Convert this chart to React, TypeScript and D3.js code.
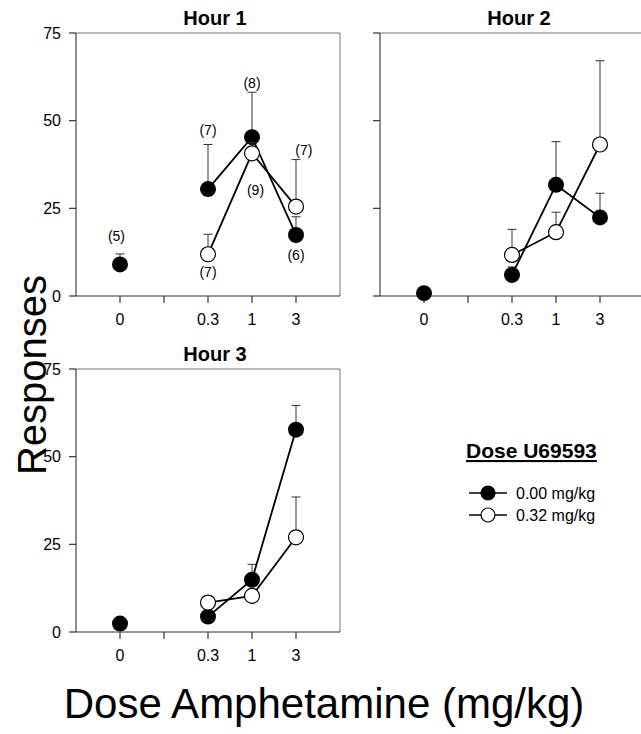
import React from "react";
import * as d3 from "d3";

// dose categories (index 1 is the axis break tick, no label)
const doseLabels = ["0", "", "0.3", "1", "3"];
const yTicks = [0, 25, 50, 75];

// U69593 0.00 mg/kg (filled) – doses 0, 0.3, 1, 3
const filledPos = [0, 2, 3, 4];
const h1Filled = [9, 30.5, 45.3, 17.4];
const h1FilledSem = [3, 12.7, 12.8, 5.2];
const h2Filled = [0.8, 6.0, 31.7, 22.4];
const h2FilledSem = [0, 2.3, 12.3, 6.9];
const h3Filled = [2.4, 4.4, 14.9, 57.7];
const h3FilledSem = [0, 0, 4.4, 6.9];

// U69593 0.32 mg/kg (open) – doses 0.3, 1, 3
const openPos = [2, 3, 4];
const h1Open = [11.9, 40.7, 25.5];
const h1OpenSem = [5.7, 3, 13.4];
const h2Open = [11.7, 18.2, 43.2];
const h2OpenSem = [7.3, 5.7, 23.9];
const h3Open = [8.4, 10.3, 27.0];
const h3OpenSem = [0, 0, 11.5];

// group sizes written on hour 1: [label, dose position, y value]
const h1Counts: [string, number, number][] = [
  ["(5)", -0.08, 15.6],
  ["(7)", 2, 46.0],
  ["(8)", 3, 59.3],
  ["(7)", 4.18, 40.1],
  ["(9)", 3.08, 28.9],
  ["(6)", 4, 10.2],
  ["(7)", 2, 5.5],
];

const W = 264;
const H = 263;
const R = 7.5;
const font = "Arial, 'Liberation Sans', Helvetica, sans-serif";

type PanelProps = {
  title: string;
  left: number;
  top: number;
  showYLabels: boolean;
  filled: number[];
  filledSem: number[];
  open: number[];
  openSem: number[];
  counts?: [string, number, number][];
};

function Panel(p: PanelProps) {
  const x = d3.scaleLinear().domain([-1, 5]).range([0, W]);
  const y = d3.scaleLinear().domain([0, 75]).range([H, 0]);

  const line = d3
    .line<[number, number]>()
    .x((d) => x(d[0]))
    .y((d) => y(d[1]));

  // only the amphetamine doses are connected, not the 0 point
  const filledLine = filledPos
    .map((pos, i) => [pos, p.filled[i]] as [number, number])
    .filter((d) => d[0] > 0);
  const openLine = openPos.map((pos, i) => [pos, p.open[i]] as [number, number]);

  const errBar = (pos: number, v: number, sem: number, k: string) =>
    sem > 0 ? (
      <g key={k} stroke="#333" strokeWidth={1}>
        <line x1={x(pos)} x2={x(pos)} y1={y(v)} y2={y(v + sem)} />
        <line x1={x(pos) - 4.5} x2={x(pos) + 4.5} y1={y(v + sem)} y2={y(v + sem)} />
      </g>
    ) : null;

  return (
    <g transform={`translate(${p.left},${p.top})`}>
      <text
        x={W / 2 + 7}
        y={-8}
        textAnchor="middle"
        fontFamily={font}
        fontWeight="bold"
        fontSize={20}
      >
        {p.title}
      </text>
      {/* frame */}
      <line x1={0} x2={W} y1={0} y2={0} stroke="#777" strokeWidth={1} />
      <line x1={W} x2={W} y1={0} y2={H} stroke="#777" strokeWidth={1} />
      <line x1={0} x2={0} y1={0} y2={H} stroke="#444" strokeWidth={1.2} />
      <line x1={0} x2={W} y1={H} y2={H} stroke="#333" strokeWidth={1.2} />
      {yTicks.map((t) => (
        <g key={t}>
          <line x1={-7} x2={0} y1={y(t)} y2={y(t)} stroke="#333" strokeWidth={1.2} />
          {p.showYLabels && (
            <text
              x={-15}
              y={y(t) + 5.5}
              textAnchor="end"
              fontFamily={font}
              fontSize={16}
            >
              {t}
            </text>
          )}
        </g>
      ))}
      {doseLabels.map((lab, i) => (
        <g key={i}>
          <line x1={x(i)} x2={x(i)} y1={H} y2={H + 7} stroke="#333" strokeWidth={1.2} />
          <text x={x(i)} y={H + 29} textAnchor="middle" fontFamily={font} fontSize={16}>
            {lab}
          </text>
        </g>
      ))}

      {filledPos.map((pos, i) => errBar(pos, p.filled[i], p.filledSem[i], "fe" + i))}
      <path d={line(filledLine) || ""} fill="none" stroke="#000" strokeWidth={1.8} />
      {filledPos.map((pos, i) => (
        <circle key={"f" + i} cx={x(pos)} cy={y(p.filled[i])} r={R + 0.5} fill="#000" />
      ))}

      {openPos.map((pos, i) => errBar(pos, p.open[i], p.openSem[i], "oe" + i))}
      <path d={line(openLine) || ""} fill="none" stroke="#000" strokeWidth={1.8} />
      {openPos.map((pos, i) => (
        <circle
          key={"o" + i}
          cx={x(pos)}
          cy={y(p.open[i])}
          r={R}
          fill="#fff"
          stroke="#000"
          strokeWidth={1.2}
        />
      ))}

      {(p.counts || []).map((c, i) => (
        <text
          key={"c" + i}
          x={x(c[1])}
          y={y(c[2])}
          textAnchor="middle"
          fontFamily={font}
          fontSize={14}
        >
          {c[0]}
        </text>
      ))}
    </g>
  );
}

export default function App() {
  const legend = [
    { label: "0.00 mg/kg", fill: "#000" },
    { label: "0.32 mg/kg", fill: "#fff" },
  ];
  return (
    <svg
      width={641}
      height={734}
      style={{ position: "absolute", left: 0, top: 0, background: "#fff" }}
    >
      <Panel
        title="Hour 1"
        left={76}
        top={33}
        showYLabels
        filled={h1Filled}
        filledSem={h1FilledSem}
        open={h1Open}
        openSem={h1OpenSem}
        counts={h1Counts}
      />
      <Panel
        title="Hour 2"
        left={380}
        top={33}
        showYLabels={false}
        filled={h2Filled}
        filledSem={h2FilledSem}
        open={h2Open}
        openSem={h2OpenSem}
      />
      <Panel
        title="Hour 3"
        left={76}
        top={369}
        showYLabels
        filled={h3Filled}
        filledSem={h3FilledSem}
        open={h3Open}
        openSem={h3OpenSem}
      />

      {/* legend */}
      <text
        x={466}
        y={458}
        fontFamily={font}
        fontWeight="bold"
        fontSize={21}
        textDecoration="underline"
      >
        Dose U69593
      </text>
      {legend.map((d, i) => (
        <g key={i} transform={`translate(0,${493 + i * 22})`}>
          <line x1={469} x2={507} y1={0} y2={0} stroke="#000" strokeWidth={1.5} />
          <circle cx={488} cy={0} r={7} fill={d.fill} stroke="#000" strokeWidth={1.2} />
          <text x={516} y={5.5} fontFamily={font} fontSize={16}>
            {d.label}
          </text>
        </g>
      ))}

      <text
        transform="translate(46,375) rotate(-90)"
        textAnchor="middle"
        fontFamily={font}
        fontSize={40}
      >
        Responses
      </text>
      <text x={324} y={718} textAnchor="middle" fontFamily={font} fontSize={42}>
        Dose Amphetamine (mg/kg)
      </text>
    </svg>
  );
}
